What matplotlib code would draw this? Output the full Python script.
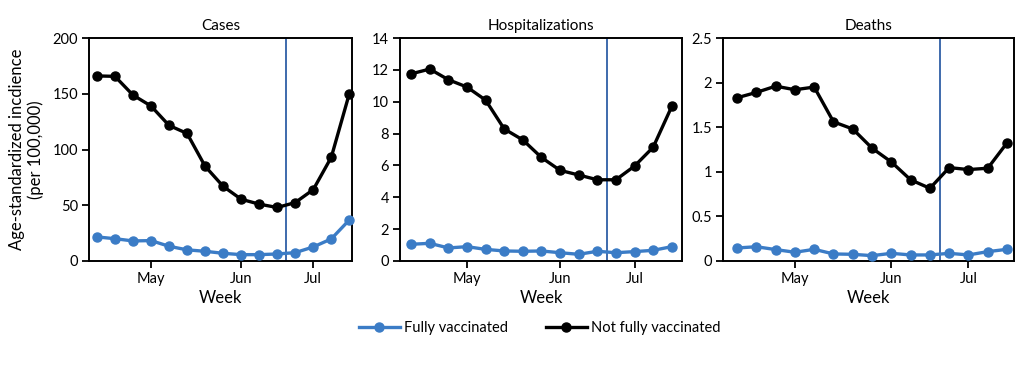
import numpy as np
import matplotlib.pyplot as plt

plt.rcParams['font.family'] = ['Lato', 'DejaVu Sans']

weeks = np.arange(15)
month_ticks = [3, 8, 12]
month_labels = ['May', 'Jun', 'Jul']
vline_week = 10.5

cases_full = [21.6, 20, 18, 18.3, 13.2, 10, 8.7, 6.9, 5.7, 5.7, 6.3, 7.5, 12.6, 19.8, 36.8]
cases_not = [166, 165.6, 148.8, 139, 121.6, 114.4, 85, 67, 55.4, 51, 48, 52.4, 64, 93, 150]
hosp_full = [1.05, 1.11, 0.82, 0.9, 0.73, 0.63, 0.61, 0.63, 0.52, 0.42, 0.61, 0.52, 0.59, 0.67, 0.9]
hosp_not = [11.75, 12.05, 11.38, 10.92, 10.1, 8.29, 7.6, 6.5, 5.69, 5.4, 5.1, 5.1, 5.96, 7.14, 9.7]
death_full = [0.146, 0.16, 0.128, 0.098, 0.131, 0.079, 0.075, 0.06, 0.086, 0.068, 0.068, 0.086, 0.068, 0.105, 0.131]
death_not = [1.83, 1.89, 1.96, 1.92, 1.95, 1.56, 1.48, 1.265, 1.11, 0.91, 0.815, 1.047, 1.025, 1.04, 1.325]

panels = [
    ('Cases', cases_full, cases_not, 200, [0, 50, 100, 150, 200], ['0', '50', '100', '150', '200']),
    ('Hospitalizations', hosp_full, hosp_not, 14, list(range(0, 15, 2)), [str(v) for v in range(0, 15, 2)]),
    ('Deaths', death_full, death_not, 2.5, [0, 0.5, 1, 1.5, 2, 2.5], ['0', '0.5', '1', '1.5', '2', '2.5']),
]

# axes boxes in pixels (left, right)
boxes = [(89, 352), (400, 682), (723, 1014)]
xlims = [(-0.44, 14.15), (-0.6, 14.55), (-0.73, 14.36)]
W, H = 1024, 387
top, bottom = 38, 261

blue = '#3b7cc6'
vblue = '#2f5fa6'

fig = plt.figure(figsize=(W / 100, H / 100), dpi=100)
axes = []
for (title, full, notfull, ymax, yt, ytl), (l, r), xl in zip(panels, boxes, xlims):
    ax = fig.add_axes([l / W, 1 - bottom / H, (r - l) / W, (bottom - top) / H])
    ax.axvline(vline_week, color=vblue, lw=1.3, zorder=1)
    lf, = ax.plot(weeks, full, '-o', color=blue, lw=2.4, ms=6.5, clip_on=False, zorder=3,
                  label='Fully vaccinated')
    ln, = ax.plot(weeks, notfull, '-o', color='black', lw=2.4, ms=6.5, clip_on=False, zorder=3,
                  label='Not fully vaccinated')
    ax.set_xlim(*xl)
    ax.set_ylim(0, ymax)
    ax.set_yticks(yt)
    ax.set_yticklabels(ytl)
    ax.set_xticks(month_ticks)
    ax.set_xticklabels(month_labels)
    ax.tick_params(direction='out', length=5, width=1.3, labelsize=10.5, pad=3)
    for s in ax.spines.values():
        s.set_linewidth(1.4)
    ax.set_title(title, fontsize=11, pad=6)
    ax.set_xlabel('Week', fontsize=12, labelpad=3)
    axes.append(ax)

axes[0].set_ylabel('Age-standardized incdience\n(per 100,000)', fontsize=12, labelpad=6)

fig.legend(handles=[lf, ln], loc='center', bbox_to_anchor=(0.527, 1 - 328 / H), ncol=2,
           frameon=False, fontsize=10.5, handlelength=2.8, columnspacing=2.6, handletextpad=0.3)

fig.savefig('out.png', dpi=100)
